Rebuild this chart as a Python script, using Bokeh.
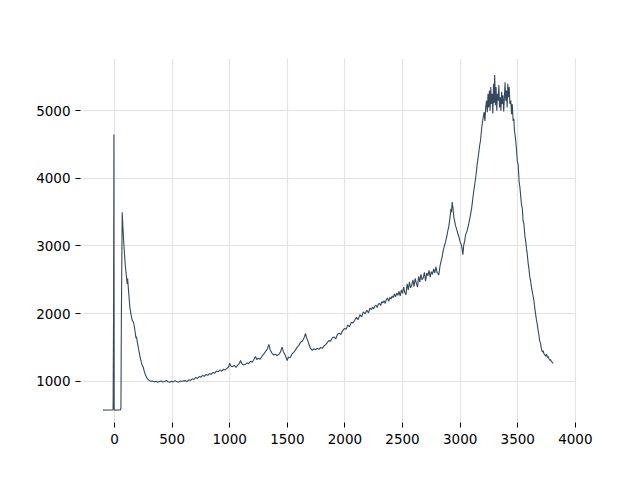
from bokeh.plotting import figure
from bokeh.models import Range1d, FixedTicker
from bokeh.embed import file_html
from bokeh.resources import INLINE

wavenumber = [
    -100, -60, -20, -12, -8, -5, -3, 0, 10, 30, 50, 56, 60, 67,
    74, 81, 88, 95, 103, 110, 114, 120, 133, 143, 154, 162, 168, 180, 186, 191,
    200, 211, 222, 232, 240, 249, 258, 269, 280, 290,
    300, 315, 330, 345, 360, 375, 390, 405, 420, 435, 450, 465, 480, 495, 510,
    525, 540, 555, 570, 585, 600,
    615, 630, 645, 660, 675, 690, 705, 720, 735, 750, 765, 780, 795, 810, 825,
    840, 855, 870, 885, 900,
    915, 930, 945, 960, 975, 990, 1000, 1010, 1025,
    1040, 1055, 1070, 1085, 1094, 1105, 1120, 1137, 1150, 1165, 1180, 1195, 1210,
    1224, 1235, 1250, 1265, 1280, 1295, 1311, 1325, 1340, 1350, 1365, 1383, 1395,
    1410, 1426, 1440, 1455, 1465, 1480, 1490, 1499, 1510, 1525, 1540, 1557, 1570,
    1585, 1600, 1615, 1630, 1645, 1658, 1668, 1678, 1687, 1700, 1716, 1730, 1745,
    1760, 1775, 1790, 1803, 1818, 1833, 1848, 1861, 1875, 1890, 1904, 1920, 1935,
    1950, 1965, 1980, 1995, 2010, 2025, 2040, 2055, 2070, 2085, 2100, 2115, 2130,
    2145, 2160, 2175, 2190, 2205, 2216,
    2230, 2240, 2250, 2260, 2270, 2280, 2290, 2300, 2310, 2320, 2330, 2340, 2350,
    2360, 2370, 2380, 2390, 2400, 2410, 2420, 2430, 2440, 2450, 2460, 2470, 2480,
    2490, 2500, 2510, 2520, 2530, 2540, 2550, 2560, 2570, 2580, 2590, 2600, 2610,
    2620, 2630, 2640, 2650, 2660, 2670, 2680, 2690, 2700, 2710, 2720, 2730, 2740,
    2750, 2760, 2770, 2780, 2790, 2800,
    2815, 2825, 2835, 2844, 2855, 2865, 2873,
    2885, 2895, 2902, 2912, 2920, 2925, 2931, 2938, 2945, 2951, 2960, 2970, 2980,
    2989, 3000, 3010, 3018, 3024, 3030, 3040, 3047, 3060, 3075, 3090, 3100, 3110,
    3119, 3130, 3140, 3148, 3158, 3168, 3177, 3188, 3200, 3208, 3215, 3222, 3229,
    3236, 3242, 3248, 3254, 3260, 3266, 3272, 3278, 3284, 3290, 3296, 3300, 3306,
    3312, 3318, 3324, 3330, 3336, 3342, 3348, 3354, 3360, 3366, 3372, 3378, 3384,
    3390, 3396, 3402, 3408, 3414, 3420, 3426, 3432, 3440, 3446, 3452, 3460, 3466,
    3472, 3480, 3488, 3496, 3504, 3512, 3518, 3524, 3532, 3540, 3546, 3553, 3562,
    3570, 3576, 3582, 3590, 3598, 3604, 3611, 3620, 3630, 3640, 3648, 3656, 3662,
    3669, 3676, 3684, 3690, 3698, 3706, 3714, 3720, 3727, 3735, 3742, 3750, 3758,
    3764, 3770, 3778, 3785, 3792, 3800, 3808,
]

intensity = [
    572, 574, 573, 575, 2000, 4650, 600, 573, 572, 574, 575, 600, 2000, 3500,
    3250, 3030, 2850, 2690, 2560, 2440, 2520, 2380, 2100, 1990, 1900, 1880, 1850, 1720, 1640, 1660,
    1560, 1460, 1360, 1285, 1240, 1210, 1150, 1090, 1050, 1030,
    1012, 998, 1003, 990, 1000, 985, 996, 1004, 988, 995, 1010, 992, 985, 1000, 990,
    1008, 994, 983, 1002, 996, 1005,
    1008, 995, 1020, 1012, 1035, 1025, 1055, 1040, 1068, 1060, 1085, 1072, 1100, 1088, 1112,
    1100, 1130, 1118, 1150, 1140,
    1165, 1150, 1175, 1168, 1190, 1210, 1265, 1225, 1215,
    1235, 1205, 1240, 1265, 1305, 1260, 1240, 1250, 1270, 1260, 1295, 1280, 1320,
    1365, 1320, 1340, 1325, 1370, 1400, 1440, 1470, 1545, 1470, 1420, 1385, 1400,
    1380, 1395, 1430, 1505, 1440, 1390, 1350, 1305, 1360, 1345, 1400, 1430, 1460,
    1500, 1530, 1575, 1590, 1640, 1705, 1640, 1600, 1550, 1490, 1455, 1480, 1465,
    1490, 1470, 1500, 1485, 1520, 1540, 1575, 1600, 1590, 1640, 1655, 1625, 1690,
    1710, 1690, 1745, 1780, 1770, 1830, 1805, 1870, 1860, 1900, 1945, 1910, 1985,
    1950, 2025, 1995, 2050, 2010, 2080,
    2060, 2095, 2070, 2110, 2125, 2090, 2140, 2150, 2120, 2175, 2160, 2190, 2150,
    2210, 2230, 2180, 2240, 2215, 2260, 2235, 2290, 2250, 2300, 2270, 2330, 2260,
    2350, 2300, 2390, 2310, 2280, 2440, 2350, 2470, 2380, 2420, 2500, 2400, 2520,
    2450, 2390, 2550, 2470, 2580, 2500, 2530, 2610, 2480, 2600, 2560, 2640, 2540,
    2620, 2580, 2660, 2600, 2690, 2610,
    2570, 2700, 2780, 2840, 2950, 3010, 3060,
    3150, 3240, 3290, 3420, 3550, 3500, 3650, 3560, 3430, 3380, 3300, 3250, 3180,
    3140, 3060, 3020, 2950, 2870, 3000, 3080, 3160, 3220, 3330, 3460, 3560, 3700,
    3820, 3950, 4080, 4210, 4330, 4470, 4560, 4760, 4900, 4980, 4850, 5050, 5150,
    4980, 5250, 5050, 5300, 5000, 5350, 5100, 5250, 4960, 5400, 5120, 5530, 5080,
    5350, 5000, 5250, 5150, 5380, 5050, 5200, 5000, 5280, 5100, 5230, 4990, 5180,
    5420, 5150, 5300, 5050, 5400, 5200, 5350, 5100, 5150, 4950, 5100, 4850, 4880,
    4700, 4600, 4450, 4260, 4200, 3950, 3880, 3770, 3620, 3550, 3380, 3330, 3150,
    3060, 2960, 2890, 2750, 2650, 2550, 2490, 2380, 2290, 2200, 2080, 1980, 1910,
    1850, 1760, 1680, 1600, 1560, 1470, 1430, 1450, 1410, 1390, 1370, 1400, 1350,
    1365, 1335, 1310, 1320, 1290, 1280, 1265,
]

x_ticks = [0, 500, 1000, 1500, 2000, 2500, 3000, 3500, 4000]
y_ticks = [1000, 2000, 3000, 4000, 5000]

p = figure(
    width=624, height=464,
    output_backend="svg", toolbar_location=None,
    x_range=Range1d(-295, 4010), y_range=Range1d(389, 5773),
    min_border_left=80, min_border_right=48,
    min_border_top=58, min_border_bottom=42,
)
p.outline_line_color = None
p.background_fill_color = "white"
p.border_fill_color = "white"

p.line(wavenumber, intensity, line_color="#34495e", line_width=1.1)

for ax in (p.xaxis[0], p.yaxis[0]):
    ax.axis_line_color = None
    ax.major_tick_line_color = "black"
    ax.major_tick_out = 5
    ax.major_tick_in = 0
    ax.minor_tick_line_color = None
    ax.major_label_text_font = "DejaVu Sans"
    ax.major_label_text_font_size = "13.5px"
    ax.major_label_text_color = "black"

p.xaxis[0].ticker = FixedTicker(ticks=x_ticks)
p.yaxis[0].ticker = FixedTicker(ticks=y_ticks)
p.xaxis[0].major_label_standoff = 6
p.yaxis[0].major_label_standoff = 5

p.xgrid.ticker = FixedTicker(ticks=x_ticks)
p.ygrid.ticker = FixedTicker(ticks=y_ticks)
p.grid.grid_line_color = "#e3e3e3"
p.grid.grid_line_width = 1.2

open("out.html", "w").write(file_html(p, INLINE))
